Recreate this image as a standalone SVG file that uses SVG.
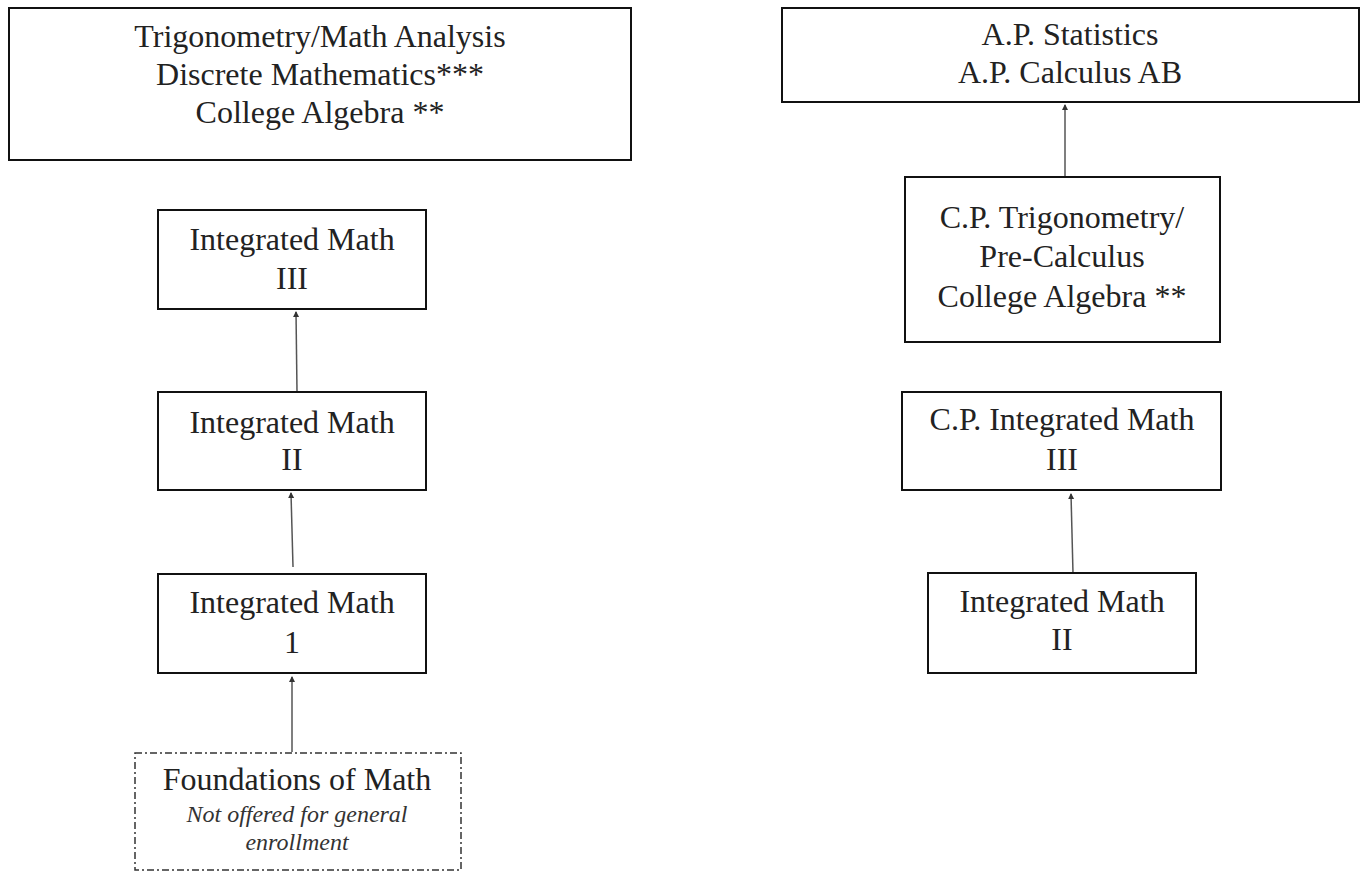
<svg xmlns="http://www.w3.org/2000/svg" width="1361" height="872" viewBox="0 0 1361 872">
<style>
.box{fill:#fff;stroke:#111;stroke-width:2}
.dash{fill:#fff;stroke:#333;stroke-width:1.5;stroke-dasharray:7 3 2 3}
.t{font-family:"Liberation Serif","Times New Roman",serif;font-size:32px;fill:#222;text-anchor:middle}
.i{font-family:"Liberation Serif","Times New Roman",serif;font-size:24px;font-style:italic;fill:#333;text-anchor:middle}
.c{stroke:#555;stroke-width:1.5;fill:none;marker-end:url(#ah)}
</style>
<defs>
<marker id="ah" markerUnits="userSpaceOnUse" markerWidth="6" markerHeight="10" refX="5" refY="3" orient="auto">
<path d="M0,0 L6,3 L0,6 Z" fill="#333"/>
</marker>
</defs>
<rect width="1361" height="872" fill="#fff"/>
<g id="connectors">
<line class="c" x1="297" y1="392" x2="296" y2="312"/>
<line class="c" x1="293" y1="567" x2="291" y2="493"/>
<line class="c" x1="292" y1="752" x2="292" y2="677"/>
<line class="c" x1="1073" y1="573" x2="1071" y2="494"/>
<line class="c" x1="1065" y1="177" x2="1065" y2="105"/>
</g>
<g id="node-top-left">
<rect class="box" x="9" y="8" width="622" height="152"/>
<text class="t" x="320" y="47">Trigonometry/Math Analysis</text>
<text class="t" x="320" y="85">Discrete Mathematics***</text>
<text class="t" x="320" y="123">College Algebra **</text>
</g>
<g id="node-top-right">
<rect class="box" x="782" y="8" width="577" height="94"/>
<text class="t" x="1070" y="45">A.P. Statistics</text>
<text class="t" x="1070" y="83">A.P. Calculus AB</text>
</g>
<g id="node-im3-left">
<rect class="box" x="158" y="210" width="268" height="99"/>
<text class="t" x="292" y="250">Integrated Math</text>
<text class="t" x="292" y="289">III</text>
</g>
<g id="node-im2-left">
<rect class="box" x="158" y="392" width="268" height="98"/>
<text class="t" x="292" y="433">Integrated Math</text>
<text class="t" x="292" y="470">II</text>
</g>
<g id="node-im1-left">
<rect class="box" x="158" y="574" width="268" height="99"/>
<text class="t" x="292" y="613">Integrated Math</text>
<text class="t" x="292" y="653">1</text>
</g>
<g id="node-foundations">
<rect class="dash" x="135" y="753" width="326" height="117"/>
<text class="t" x="297" y="790">Foundations of Math</text>
<text class="i" x="297" y="822">Not offered for general</text>
<text class="i" x="297" y="850">enrollment</text>
</g>
<g id="node-cp-trig">
<rect class="box" x="905" y="177" width="315" height="165"/>
<text class="t" x="1062" y="228">C.P. Trigonometry/</text>
<text class="t" x="1062" y="267">Pre-Calculus</text>
<text class="t" x="1062" y="307">College Algebra **</text>
</g>
<g id="node-cp-im3">
<rect class="box" x="902" y="392" width="319" height="98"/>
<text class="t" x="1062" y="430">C.P. Integrated Math</text>
<text class="t" x="1062" y="470">III</text>
</g>
<g id="node-im2-right">
<rect class="box" x="928" y="573" width="268" height="100"/>
<text class="t" x="1062" y="612">Integrated Math</text>
<text class="t" x="1062" y="650">II</text>
</g>
</svg>
